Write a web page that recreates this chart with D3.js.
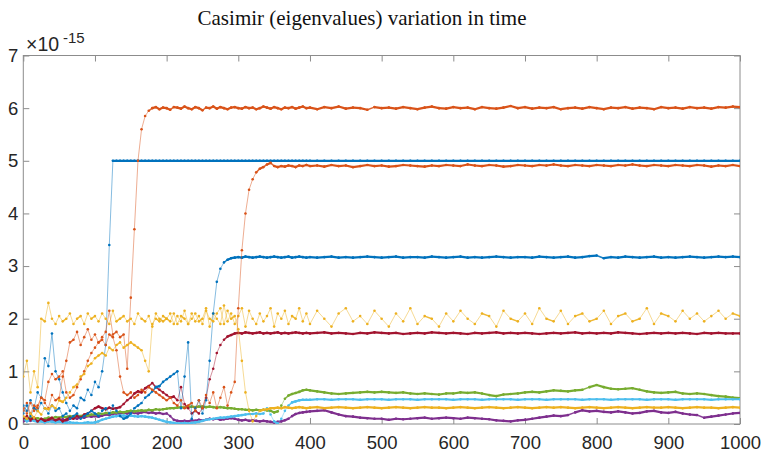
<!DOCTYPE html>
<html>
<head>
<meta charset="utf-8">
<script src="https://cdn.jsdelivr.net/npm/d3@7"></script>
<style>
  body { margin: 0; background: #fff; }
  svg { display: block; }
  .tick-label { font-family: "Liberation Sans", Arial, sans-serif; font-size: 18.5px; fill: #262626; }
  .title { font-family: "Liberation Serif", "Times New Roman", serif; font-size: 21px; fill: #111; }
</style>
</head>
<body>
<svg id="chart"></svg>
<script>
// time axis: every 5 steps up to 400, every 10 steps after that
const timeSteps = d3.range(0, 400, 5).concat(d3.range(400, 1001, 10));

const xTicks = [0, 100, 200, 300, 400, 500, 600, 700, 800, 900, 1000];
const yTicks = [0, 1, 2, 3, 4, 5, 6, 7];

// values in units of 1e-15
const blue1 = [
  0.35,0.25,0.45,0.3,0.6,0.5,1.25,1.1,1.72,1.0, 0.85,0.6,0.4,0.25,0.35,0.3,0.5,0.45,0.65,0.55,
  0.8,0.7,1.0,1.5,3.4,5,5,5,5,5, 5,5,5,5,5,5,5,5,5,5,
  5,5,5,5,5,5,5,5,5,5, 5,5,5,5,5,5,5,5,5,5,
  5,5,5,5,5,5,5,5,5,5, 5,5,5,5,5,5,5,5,5,5,
  5,5,5,5,5,5,5,5,5,5, 5,5,5,5,5,5,5,5,5,5, 5,5,5,5,5,5,5,5,5,5,
  5,5,5,5,5,5,5,5,5,5, 5,5,5,5,5,5,5,5,5,5, 5,5,5,5,5,5,5,5,5,5, 5
];
const orange1 = [
  0.25,0.4,0.2,0.35,0.3,0.5,0.4,0.3,0.55,0.45, 0.5,0.9,1.2,1.55,1.6,1.75,1.5,1.65,1.8,1.6,
  1.7,1.55,1.65,1.75,2.15,1.7,1.75,1.65,1.7,1.05, 2.4,3.7,5.0,5.6,5.85,5.95,6.0,6.02,5.98,6.01,
  6.0,5.97,6.02,6.01,5.99,6.03,6.0,5.98,6.02,6.0, 5.96,6.01,6.0,6.03,5.99,6.02,6.0,5.98,6.01,6.02,
  6.0,5.99,6.02,6.0,6.01,5.98,6.0,6.03,6.01,5.99, 6.02,6.0,5.98,6.01,6.0,6.02,5.99,6.01,6.03,6.0,
  6.01,5.98,6.02,6.0,6.03,5.99,6.01,6.0,5.97,6.02, 6.0,6.01,5.99,6.02,6.0,5.98,6.01,6.03,6.0,5.99,
  6.02,6.0,6.01,5.98,6.02,6.0,5.99,6.01,6.04,6.0, 6.02,5.99,6.01,6.0,6.02,5.98,6.0,6.01,5.99,6.02,
  6.0,5.98,6.01,6.0,6.02,5.99,6.01,6.0,5.98,6.02, 6.0,6.01,5.99,6.02,6.0,6.01,5.99,6.02,6.01,6.03, 6.02
];
const yellow1 = [
  0.9,1.2,0.6,1.0,0.7,2.0,1.95,2.3,2.0,1.9, 2.05,1.95,2.0,2.1,1.9,2.0,2.05,1.9,2.1,2.0,
  2.05,1.95,2.1,2.0,1.9,2.15,1.95,2.0,2.05,1.95, 2.0,1.9,2.1,2.0,1.95,2.05,1.85,2.1,2.0,1.95,
  2.0,2.1,1.9,2.05,1.95,2.15,1.9,2.0,2.1,1.95, 2.0,2.2,1.85,2.1,2.0,1.9,2.25,1.95,2.1,1.9,
  2.05,2.2,1.85,2.15,2.0,1.9,2.1,1.95,2.05,2.2, 1.85,2.1,2.0,2.15,1.9,2.05,2.0,2.2,1.95,2.1,
  1.9,2.15,2.0,1.85,2.1,2.2,1.95,2.05,1.9,2.15, 2.0,1.85,2.1,1.95,2.2,1.9,2.05,2.0,1.85,2.1,
  1.95,2.15,2.0,1.9,2.1,2.05,1.85,2.15,2.0,1.95, 2.1,1.9,2.2,2.0,1.95,2.15,1.9,2.05,2.1,1.95,
  2.0,2.15,1.9,2.05,2.1,1.95,2.0,2.2,1.9,2.1, 2.05,1.95,2.15,2.0,2.1,1.95,2.05,2.15,2.0,2.1, 2.05
];
const purple = [
  0.05,0.08,0.06,0.1,0.05,0.07,0.04,0.06,0.08,0.05, 0.07,0.09,0.06,0.1,0.12,0.1,0.13,0.12,0.15,0.14,
  0.15,0.14,0.16,0.18,0.17,0.19,0.2,0.2,0.21,0.2, 0.22,0.21,0.2,0.22,0.23,0.21,0.22,0.2,0.21,0.19,
  0.2,0.15,0.08,0.06,0.05,0.06,0.05,0.07,0.06,0.08, 0.07,0.08,0.1,0.09,0.1,0.08,0.09,0.1,0.11,0.1,
  0.08,0.07,0.08,0.06,0.07,0.06,0.05,0.06,0.05,0.04, 0.03,0.04,0.05,0.07,0.1,0.15,0.19,0.21,0.22,0.23,
  0.24,0.25,0.26,0.22,0.18,0.15,0.14,0.12,0.11,0.1, 0.1,0.08,0.1,0.09,0.1,0.11,0.12,0.1,0.11,0.12,
  0.11,0.1,0.12,0.11,0.1,0.09,0.07,0.06,0.05,0.07, 0.08,0.1,0.12,0.14,0.16,0.15,0.17,0.22,0.26,0.24,
  0.25,0.23,0.22,0.24,0.22,0.2,0.21,0.24,0.25,0.22, 0.21,0.23,0.2,0.18,0.17,0.12,0.14,0.16,0.18,0.2, 0.21
];
const green = [
  0.1,0.08,0.12,0.1,0.11,0.09,0.1,0.12,0.11,0.13, 0.12,0.14,0.13,0.15,0.14,0.16,0.15,0.17,0.16,0.18,
  0.18,0.2,0.19,0.21,0.2,0.22,0.22,0.23,0.22,0.24, 0.25,0.24,0.25,0.26,0.25,0.27,0.26,0.28,0.27,0.28,
  0.29,0.3,0.3,0.31,0.32,0.31,0.32,0.33,0.32,0.33, 0.33,0.32,0.33,0.32,0.31,0.32,0.31,0.3,0.3,0.29,
  0.28,0.28,0.27,0.27,0.26,0.27,0.26,0.27,0.26,0.25, 0.22,0.24,0.35,0.48,0.54,0.57,0.59,0.61,0.64,0.65,
  0.64,0.62,0.6,0.58,0.57,0.58,0.59,0.6,0.61,0.6, 0.61,0.6,0.59,0.6,0.58,0.57,0.58,0.57,0.56,0.58,
  0.58,0.6,0.59,0.6,0.58,0.55,0.53,0.56,0.57,0.58, 0.6,0.61,0.6,0.62,0.64,0.63,0.62,0.64,0.65,0.7,
  0.74,0.7,0.67,0.66,0.67,0.68,0.65,0.62,0.6,0.59, 0.6,0.61,0.58,0.57,0.58,0.57,0.55,0.53,0.52,0.5, 0.49
];
const lightBlue = [
  0.1,0.05,0.08,0.06,0.04,0.05,0.03,0.05,0.04,0.03, 0.04,0.03,0.02,0.03,0.02,0.02,0.01,0.02,0.03,0.02,
  0.03,0.05,0.08,0.1,0.12,0.14,0.15,0.16,0.16,0.15, 0.16,0.15,0.14,0.15,0.14,0.13,0.12,0.1,0.08,0.06,
  0.04,0.03,0.02,0.01,0.01,0.02,0.01,0.02,0.03,0.04, 0.06,0.08,0.09,0.1,0.11,0.12,0.12,0.13,0.14,0.15,
  0.16,0.17,0.18,0.19,0.19,0.2,0.19,0.2,0.3,0.18, 0.05,0.01,0.1,0.25,0.35,0.41,0.43,0.45,0.46,0.46,
  0.46,0.47,0.47,0.46,0.47,0.47,0.47,0.46,0.47,0.47, 0.47,0.46,0.47,0.47,0.47,0.46,0.47,0.47,0.47,0.47,
  0.46,0.47,0.47,0.47,0.46,0.47,0.47,0.47,0.47,0.46, 0.47,0.47,0.47,0.46,0.47,0.47,0.47,0.47,0.46,0.47,
  0.47,0.47,0.46,0.47,0.47,0.47,0.47,0.46,0.47,0.47, 0.47,0.46,0.47,0.47,0.47,0.47,0.46,0.47,0.47,0.47, 0.47
];
const darkRed = [
  0.1,0.15,0.08,0.12,0.05,0.1,0.06,0.08,0.12,0.07, 0.1,0.05,0.08,0.12,0.1,0.15,0.12,0.18,0.2,0.25,
  0.3,0.33,0.3,0.28,0.31,0.29,0.3,0.32,0.38,0.45, 0.5,0.58,0.62,0.6,0.68,0.72,0.78,0.7,0.65,0.6,
  0.55,0.5,0.52,0.45,0.7,0.38,0.3,0.2,0.25,0.2, 0.3,0.5,0.85,1.05,1.35,1.5,1.6,1.66,1.69,1.72,
  1.73,1.72,1.74,1.73,1.72,1.73,1.74,1.72,1.73,1.72, 1.73,1.74,1.72,1.73,1.72,1.73,1.74,1.73,1.72,1.73,
  1.72,1.73,1.74,1.72,1.73,1.72,1.71,1.73,1.72,1.74, 1.73,1.72,1.73,1.71,1.72,1.73,1.72,1.74,1.73,1.72,
  1.73,1.72,1.71,1.73,1.72,1.73,1.74,1.72,1.73,1.72, 1.73,1.72,1.71,1.72,1.73,1.72,1.73,1.74,1.72,1.73,
  1.72,1.73,1.72,1.74,1.73,1.72,1.71,1.72,1.73,1.72, 1.73,1.72,1.73,1.72,1.71,1.73,1.72,1.73,1.72,1.72, 1.72
];
const blue2 = [
  0.2,0.35,0.15,0.3,0.25,0.4,0.3,0.2,0.35,0.25, 0.3,0.15,0.2,0.1,0.15,0.2,0.1,0.15,0.2,0.25,
  0.2,0.15,0.25,0.3,0.2,0.35,0.25,0.15,0.1,0.13, 0.2,0.3,0.35,0.4,0.5,0.55,0.62,0.7,0.72,0.8,
  0.85,0.9,0.95,1.0,0.3,0.9,1.55,0.1,0.3,0.45, 0.2,0.45,1.2,2.1,2.7,2.95,3.07,3.12,3.15,3.16,
  3.17,3.16,3.18,3.17,3.16,3.17,3.18,3.17,3.16,3.17, 3.18,3.17,3.16,3.17,3.18,3.16,3.17,3.18,3.17,3.16,
  3.17,3.16,3.17,3.18,3.16,3.17,3.16,3.17,3.18,3.17, 3.16,3.17,3.18,3.16,3.17,3.17,3.16,3.18,3.17,3.16,
  3.17,3.18,3.16,3.17,3.16,3.17,3.18,3.17,3.16,3.17, 3.17,3.16,3.18,3.17,3.16,3.17,3.18,3.16,3.17,3.19,
  3.2,3.15,3.17,3.16,3.18,3.17,3.16,3.17,3.18,3.16, 3.17,3.16,3.17,3.18,3.17,3.16,3.17,3.18,3.17,3.18, 3.17
];
const orange2 = [
  0.3,0.2,0.4,0.25,0.35,0.5,0.45,0.8,0.95,0.85, 0.9,1.0,0.6,0.5,0.55,0.7,0.85,1.0,1.2,1.35,
  1.45,1.55,1.6,1.5,1.7,1.65,1.4,0.9,0.6,0.55, 0.6,0.5,0.55,0.65,0.6,0.7,0.65,0.6,0.55,0.5,
  0.45,0.5,0.4,0.35,0.45,0.3,0.35,0.4,0.25,0.45, 0.3,0.55,0.4,0.6,0.3,0.5,0.7,0.35,0.6,0.8,
  2.2,3.3,4.0,4.45,4.65,4.78,4.85,4.88,4.93,4.96, 4.9,4.88,4.9,4.89,4.91,4.9,4.88,4.91,4.9,4.92,
  4.9,4.91,4.89,4.92,4.9,4.91,4.88,4.9,4.92,4.9, 4.91,4.89,4.9,4.92,4.91,4.9,4.89,4.91,4.9,4.92,
  4.91,4.9,4.93,4.91,4.9,4.92,4.91,4.89,4.9,4.92, 4.91,4.9,4.92,4.91,4.93,4.91,4.9,4.92,4.91,4.9,
  4.92,4.91,4.9,4.92,4.91,4.93,4.91,4.9,4.92,4.91, 4.9,4.92,4.91,4.9,4.92,4.91,4.89,4.91,4.9,4.92, 4.9
];
const yellow2 = [
  0.15,0.1,0.2,0.12,0.25,0.18,0.3,0.28,0.35,0.3, 0.45,0.42,0.5,0.6,0.7,0.75,0.9,0.95,1.1,1.15,
  1.25,1.3,1.35,1.3,1.45,1.4,1.5,1.55,1.45,1.5, 1.55,1.5,1.45,1.4,1.2,1.0,1.9,2.0,1.95,2.05,
  2.0,1.95,2.1,1.9,2.05,2.0,1.9,2.1,1.95,2.05, 1.9,2.15,2.0,1.95,2.1,2.2,1.9,2.15,2.0,2.05,
  1.8,1.2,0.6,0.25,0.05,0.15,0.25,0.27,0.28,0.3, 0.3,0.31,0.3,0.32,0.31,0.3,0.31,0.32,0.31,0.3,
  0.31,0.32,0.3,0.31,0.32,0.31,0.3,0.31,0.32,0.31, 0.3,0.31,0.32,0.31,0.3,0.31,0.32,0.31,0.31,0.3,
  0.31,0.32,0.31,0.3,0.31,0.32,0.31,0.3,0.31,0.32, 0.31,0.3,0.31,0.32,0.31,0.32,0.31,0.3,0.31,0.32,
  0.31,0.3,0.31,0.32,0.31,0.3,0.31,0.32,0.31,0.31, 0.32,0.31,0.3,0.31,0.32,0.31,0.31,0.3,0.31,0.32, 0.31
];

// MATLAB default colour order, cycling after seven
const seriesList = [
  { name: "blue1", values: blue1, color: "#0072BD" },
  { name: "orange1", values: orange1, color: "#D95319" },
  { name: "yellow1", values: yellow1, color: "#EDB120" },
  { name: "purple", values: purple, color: "#7E2F8E" },
  { name: "green", values: green, color: "#77AC30" },
  { name: "lightBlue", values: lightBlue, color: "#4DBEEE" },
  { name: "darkRed", values: darkRed, color: "#A2142F" },
  { name: "blue2", values: blue2, color: "#0072BD" },
  { name: "orange2", values: orange2, color: "#D95319" },
  { name: "yellow2", values: yellow2, color: "#EDB120" },
];

const config = {
  containerWidth: 763,
  containerHeight: 454,
  left: 23.3,
  right: 740,
  top: 55.5,
  bottom: 424,
  tickLength: 6,
};

// the original has a marker on every step, so flat stretches read as a thick band
// and steep stretches as a thin line; mimic that from the vertical step in pixels
function segmentStyle(dy) {
  if (dy < 2.5) return { width: 2.2, opacity: 1 };
  if (dy < 4.5) return { width: 1.5, opacity: 0.9 };
  return { width: 0.8, opacity: 0.6 };
}

const svg = d3
  .select("#chart")
  .attr("width", config.containerWidth)
  .attr("height", config.containerHeight);

const x = d3.scaleLinear().domain([0, 1000]).range([config.left, config.right]);
const y = d3.scaleLinear().domain([0, 7]).range([config.bottom, config.top]);
const fmt = d3.format("d");

svg
  .append("defs")
  .append("clipPath")
  .attr("id", "plot-clip")
  .append("rect")
  .attr("x", config.left)
  .attr("y", config.top)
  .attr("width", config.right - config.left)
  .attr("height", config.bottom - config.top);

// axes with inward ticks on all four sides
const xAxisBottom = svg
  .append("g")
  .attr("transform", `translate(0,${config.bottom})`)
  .call(d3.axisBottom(x).tickValues(xTicks).tickFormat(fmt).tickSizeInner(-config.tickLength).tickSizeOuter(0).tickPadding(12));
const xAxisTop = svg
  .append("g")
  .attr("transform", `translate(0,${config.top})`)
  .call(d3.axisTop(x).tickValues(xTicks).tickSizeInner(-config.tickLength).tickSizeOuter(0).tickFormat(""));
const yAxisLeft = svg
  .append("g")
  .attr("transform", `translate(${config.left},0)`)
  .call(d3.axisLeft(y).tickValues(yTicks).tickFormat(fmt).tickSizeInner(-config.tickLength).tickSizeOuter(0).tickPadding(5));
const yAxisRight = svg
  .append("g")
  .attr("transform", `translate(${config.right},0)`)
  .call(d3.axisRight(y).tickValues(yTicks).tickSizeInner(-config.tickLength).tickSizeOuter(0).tickFormat(""));

[xAxisBottom, xAxisTop, yAxisLeft, yAxisRight].forEach((g) => {
  g.select(".domain").remove();
  g.selectAll(".tick line").attr("stroke", "#8c8c8c");
  g.selectAll(".tick text").attr("class", "tick-label").attr("fill", null);
  g.attr("font-size", null).attr("font-family", null);
});

svg
  .append("rect")
  .attr("x", config.left)
  .attr("y", config.top)
  .attr("width", config.right - config.left)
  .attr("height", config.bottom - config.top)
  .attr("fill", "none")
  .attr("stroke", "#8c8c8c")
  .attr("stroke-width", 1);

// exponent label
svg.append("text").attr("class", "tick-label").attr("x", 26).attr("y", 50.5).style("font-size", "19.5px").text("×10");
svg.append("text").attr("class", "tick-label").attr("x", 63).attr("y", 43).style("font-size", "15px").text("-15");

svg
  .append("text")
  .attr("class", "title")
  .attr("x", 362)
  .attr("y", 25)
  .attr("text-anchor", "middle")
  .text("Casimir (eigenvalues) variation in time");

const plot = svg.append("g").attr("clip-path", "url(#plot-clip)");

const series = plot
  .selectAll(".series")
  .data(seriesList)
  .join("g")
  .attr("class", "series");

// one segment per pair of neighbouring samples
series
  .selectAll("line")
  .data((d) =>
    d.values.slice(1).map((v, i) => ({
      t0: timeSteps[i], v0: d.values[i],
      t1: timeSteps[i + 1], v1: v,
      color: d.color,
    }))
  )
  .join("line")
  .attr("x1", (d) => x(d.t0))
  .attr("y1", (d) => y(d.v0))
  .attr("x2", (d) => x(d.t1))
  .attr("y2", (d) => y(d.v1))
  .attr("stroke", (d) => d.color)
  .attr("stroke-linecap", "round")
  .each(function (d) {
    const s = segmentStyle(Math.abs(y(d.v1) - y(d.v0)));
    d3.select(this).attr("stroke-width", s.width).attr("stroke-opacity", s.opacity);
  });

series
  .selectAll("circle")
  .data((d) => d.values.map((v, i) => ({ t: timeSteps[i], v, color: d.color })))
  .join("circle")
  .attr("cx", (d) => x(d.t))
  .attr("cy", (d) => y(d.v))
  .attr("r", 1.3)
  .attr("fill", (d) => d.color);
</script>
</body>
</html>
